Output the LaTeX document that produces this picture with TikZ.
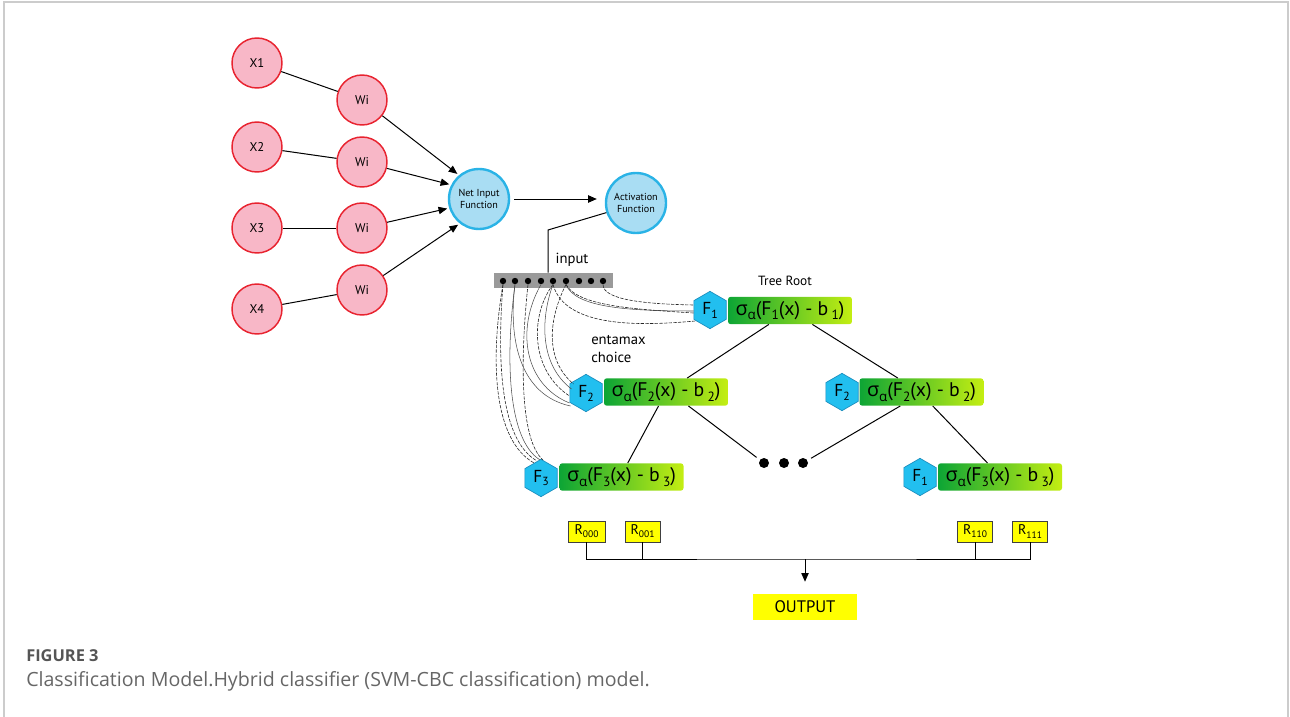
\documentclass[tikz,border=0pt]{standalone}
\usepackage{fontspec}
\usepackage{graphicx}
\setmainfont{PT Sans}
\newfontfamily\capfont{Open Sans}
\usetikzlibrary{shapes.geometric,calc,arrows.meta}
\definecolor{pinkfill}{HTML}{F8B7C7}
\definecolor{redb}{HTML}{E8232F}
\definecolor{bluefill}{HTML}{A9DDF3}
\definecolor{blueb}{HTML}{2AB3E6}
\definecolor{hexfill}{HTML}{22BFEF}
\definecolor{hexb}{HTML}{1A8CBC}
\definecolor{gL}{HTML}{0DA535}
\definecolor{gR}{HTML}{C4EE12}
\definecolor{yel}{HTML}{FFFF00}
\definecolor{bargray}{HTML}{9A9A9A}
\definecolor{framegray}{HTML}{CCCCCC}
\definecolor{capgray}{HTML}{666666}
\definecolor{figgray}{HTML}{555555}
\newcommand\subs[1]{\raisebox{-0.45ex}{\scalebox{0.68}{#1}}}
\newcommand\sig[2]{{\capfont σ}\subs{\capfont α}(F\subs{#1}(x) - b\,\subs{#2})}
\begin{document}
\begin{tikzpicture}[x=0.75pt,y=-0.75pt,
  xnode/.style={circle, draw=redb, fill=pinkfill, line width=1.1pt, minimum size=37.5pt, inner sep=0pt, font=\fontsize{9.5}{10}\selectfont},
  bnode/.style={circle, draw=blueb, fill=bluefill, line width=1.8pt, minimum size=45pt, inner sep=0pt, align=center, font=\fontsize{7.6}{8.6}\selectfont},
  hexnode/.style={regular polygon, regular polygon sides=6, shape border rotate=30, draw=hexb, fill=hexfill, line width=0.5pt, minimum size=28pt, inner sep=0pt, font=\fontsize{13}{13}\selectfont},
  sbox/.style={rounded corners=2pt, minimum width=93pt, minimum height=20.5pt, inner sep=0pt, left color=gL, right color=gR, font=\fontsize{14.8}{15}\selectfont},
  rbox/.style={draw=black!75, fill=yel, line width=0.5pt, minimum width=26pt, minimum height=15.75pt, inner sep=0pt, font=\fontsize{10.5}{11}\selectfont},
  dotnode/.style={circle, fill=black, minimum size=4.8pt, inner sep=0pt},
  bigdot/.style={circle, fill=black, minimum size=7.5pt, inner sep=0pt},
  lbl/.style={inner sep=0pt, font=\fontsize{10}{12.5}\selectfont},
  conn/.style={line width=0.75pt},
  arr/.style={line width=0.75pt, -{Stealth[length=6.5pt,width=5.5pt,inset=0pt]}},
  dc/.style={line width=0.45pt, black!85, dash pattern=on 2.5pt off 1pt},
  sc/.style={line width=0.4pt, black!70}]
\useasboundingbox (0,0) rectangle (1290,717);
\draw[framegray, line width=1.1pt] (4,717) -- (4,2) -- (1288,2) -- (1288,717);

% perceptron
\node[xnode] (x1) at (257,63) {X1};
\node[xnode] (x2) at (257,147) {X2};
\node[xnode] (x3) at (257,228) {X3};
\node[xnode] (x4) at (257,309) {X4};
\node[xnode] (w1) at (362,100) {Wi};
\node[xnode] (w2) at (362,162) {Wi};
\node[xnode] (w3) at (362,228) {Wi};
\node[xnode] (w4) at (362,290) {Wi};
\node[bnode] (net) at (479,199) {Net Input\\Function};
\node[bnode] (act) at (636,203) {Activation\\Function};
\draw[conn] (x1) -- (w1);
\draw[conn] (x2) -- (w2);
\draw[conn] (x3) -- (w3);
\draw[conn] (x4) -- (w4);
\draw[arr, shorten >=1.5pt] (w1) -- (net.130);
\draw[arr, shorten >=1.5pt] (w2) -- (net.153);
\draw[arr, shorten >=1.5pt] (w3) -- (net.197);
\draw[arr, shorten >=1.5pt] (w4) -- (net.232);
\draw[arr, shorten <=3pt, shorten >=6pt] (net.east) -- (net.east -| act.west);

% input bar
\node[fill=bargray, minimum width=89.25pt, minimum height=11.25pt, inner sep=0pt] (bar) at (553.5,280.5) {};
\foreach \i/\xx in {1/503,2/515,3/528,4/541,5/553,6/566,7/579,8/591,9/603}
  \node[dotnode] (d\i) at (\xx,281) {};
\coordinate (k) at (548,230);
\draw[conn] (act.198) -- (k) -- (k |- bar.north);
\node[lbl, font=\fontsize{11}{12}\selectfont] (inp) at (572,260) {input};

% tree nodes
\node[hexnode] (F1) at (710,310) {F\subs{1}};
\node[sbox] (b1) at (790,310.5) {\sig{1}{1}};
\node[lbl] (root) at (785,281) {Tree Root};
\node[hexnode] (F2L) at (586,393) {F\subs{2}};
\node[sbox] (b2L) at (666,392) {\sig{2}{2}};
\node[hexnode] (F2R) at (842,392) {F\subs{2}};
\node[sbox] (b2R) at (921.5,392) {\sig{2}{2}};
\node[hexnode] (F3L) at (541,478) {F\subs{3}};
\node[sbox] (b3L) at (621.5,477) {\sig{3}{3}};
\node[hexnode] (F1R) at (920,477) {F\subs{1}};
\node[sbox] (b3R) at (1000,477) {\sig{3}{3}};
\node[lbl, anchor=west, align=left, font=\fontsize{11}{13}\selectfont] (ent) at (591,349) {entamax\\choice};
\node[bigdot] (dL) at (764,463) {};
\node[bigdot] (dM) at (784,463) {};
\node[bigdot] (dR) at (803,463) {};

% tree edges
\draw[conn] ($(b1.south west)!.33!(b1.south east)$) -- ($(b2L.north west)!.67!(b2L.north east)$);
\draw[conn] ($(b1.south west)!.68!(b1.south east)$) -- ($(b2R.north west)!.31!(b2R.north east)$);
\draw[conn] ($(b2L.south west)!.44!(b2L.south east)$) -- ($(b3L.north west)!.55!(b3L.north east)$);
\draw[conn, shorten >=7pt] ($(b2L.south west)!.68!(b2L.south east)$) -- (dL.center);
\draw[conn, shorten >=7pt] ($(b2R.south west)!.33!(b2R.south east)$) -- (dR.center);
\draw[conn] ($(b2R.south west)!.59!(b2R.south east)$) -- ($(b3R.north west)!.4!(b3R.north east)$);

% entamax choice curves
\draw[dc] (d9.south) .. controls (603,300) and (645,304) .. ($(F1.west)+(0,-5)$);
\draw[sc] (d6.south) .. controls (575,308) and (630,311) .. ($(F1.west)+(0,1)$);
\draw[dc] (d6.south) .. controls (578,306) and (632,309) .. ($(F1.west)+(0,3)$);
\draw[dc] (d5.south) .. controls (565,328) and (640,326) .. ($(F1.west)+(2,11)$);
\draw[sc] (d4.south) .. controls (515,330) and (525,385) .. ($(F2L.west)+(0,10)$);
\draw[dc] (d5.south) .. controls (530,315) and (530,370) .. ($(F2L.west)+(0,3)$);
\draw[sc] (d5.south) .. controls (540,320) and (540,365) .. ($(F2L.west)+(2,-4)$);
\draw[dc] (d6.south) .. controls (548,320) and (545,360) .. ($(F2L.west)+(4,-9)$);
\draw[sc] (d2.south) .. controls (508,340) and (520,395) .. ($(F2L.west)+(1,13)$);
\draw[dc] (d1.south) .. controls (490,360) and (493,440) .. ($(F3L.north)+(-7,4)$);
\draw[dc] (d1.south) .. controls (497,360) and (500,440) .. ($(F3L.north)+(-4,2)$);
\draw[sc] (d2.south) .. controls (505,360) and (508,440) .. ($(F3L.north)+(-1,1)$);
\draw[dc] (d3.south) .. controls (520,360) and (520,440) .. ($(F3L.north)+(2,1)$);

% leaves and output
\node[rbox, minimum width=27.75pt] (r000) at (586.5,531.5) {R\subs{000}};
\node[rbox] (r001) at (642.5,531.5) {R\subs{001}};
\node[rbox] (r110) at (975,531.5) {R\subs{110}};
\node[rbox] (r111) at (1030,531.5) {R\subs{111}};
\node[fill=yel, minimum width=78pt, minimum height=19.5pt, inner sep=0pt, font=\fontsize{12.5}{13}\selectfont] (out) at (805,607) {OUTPUT};
\coordinate (bus) at (805,559);
\draw[conn] (r000.south) |- (bus) -| (r111.south);
\draw[conn] (r001.south) -- (r001.south |- bus);
\draw[conn] (r110.south) -- (r110.south |- bus);
\draw[arr, shorten >=9pt] (bus) -- (out.north);

% caption
\node[anchor=west, inner sep=0pt, text=figgray, font=\capfont\bfseries\fontsize{12.3}{13}\selectfont] (fig) at (26,656) {FIGURE 3};
\node[anchor=west, inner sep=0pt, text=capgray, font=\capfont\fontsize{14.7}{16}\selectfont] (cap) at (26,681) {Classification Model.Hybrid classifier (SVM-CBC classification) model.};
\end{tikzpicture}
\end{document}
